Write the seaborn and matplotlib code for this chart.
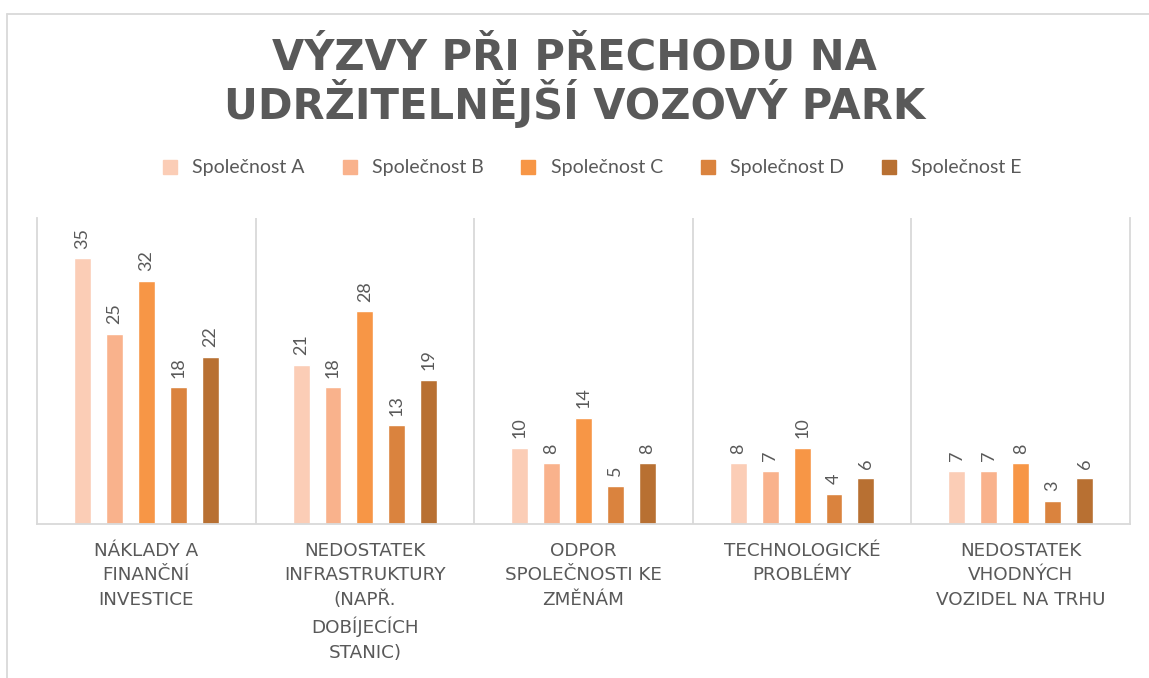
import matplotlib
matplotlib.use("Agg")
import matplotlib.pyplot as plt
import seaborn as sns
import pandas as pd
from matplotlib.lines import Line2D

categories = [
    "NÁKLADY A\nFINANČNÍ\nINVESTICE",
    "NEDOSTATEK\nINFRASTRUKTURY\n(NAPŘ.\nDOBÍJECÍCH\nSTANIC)",
    "ODPOR\nSPOLEČNOSTI KE\nZMĚNÁM",
    "TECHNOLOGICKÉ\nPROBLÉMY",
    "NEDOSTATEK\nVHODNÝCH\nVOZIDEL NA TRHU",
]
companies = ["Společnost A", "Společnost B", "Společnost C", "Společnost D", "Společnost E"]
spol_a = [35, 21, 10, 8, 7]
spol_b = [25, 18, 8, 7, 7]
spol_c = [32, 28, 14, 10, 8]
spol_d = [18, 13, 5, 4, 3]
spol_e = [22, 19, 8, 6, 6]
colors = ["#FBCDB6", "#F9B28C", "#F79646", "#DA833E", "#B87032"]

series = [spol_a, spol_b, spol_c, spol_d, spol_e]
rows = []
for comp, vals in zip(companies, series):
    for cat, v in zip(categories, vals):
        rows.append({"cat": cat, "company": comp, "value": v})
df = pd.DataFrame(rows)

sns.set_theme(style="white")
plt.rcParams["font.family"] = ["Lato", "DejaVu Sans"]
grey = "#595959"
line_c = "#D9D9D9"

fig = plt.figure(figsize=(11.49, 6.78), dpi=100)
ax = fig.add_axes([37/1149, 1-524/678, (1130-37)/1149, (524-218)/678])

sns.barplot(data=df, x="cat", y="value", hue="company", palette=colors,
            order=categories, hue_order=companies, width=0.73, gap=0.47,
            ax=ax, legend=False, saturation=1)

ax.set_ylim(0, 40.3)
ax.set_xlim(-0.5, len(categories) - 0.5)
ax.set_xlabel("")
ax.set_ylabel("")
ax.set_yticks([])
for c in ax.containers:
    ax.bar_label(c, padding=7, rotation=90, color=grey, fontsize=13)

for s in ["left", "right", "bottom"]:
    ax.spines[s].set_color(line_c)
    ax.spines[s].set_linewidth(1.3)
ax.spines["top"].set_visible(False)
for i in range(len(categories) - 1):
    ax.axvline(i + 0.5, color=line_c, lw=1.3)

ax.tick_params(axis="x", length=0, pad=13)
ax.set_xticks(range(len(categories)))
ax.set_xticklabels(categories)
for t in ax.get_xticklabels():
    t.set_fontfamily(["DejaVu Sans"])
    t.set_fontsize(13.2)
    t.set_color(grey)
    t.set_linespacing(1.45)

handles = [Line2D([0], [0], marker="s", linestyle="", markersize=10,
                  markerfacecolor=c, markeredgecolor=c) for c in colors]
fig.legend(handles, companies, loc="center", bbox_to_anchor=(0.51, 1-168/678),
           ncol=5, frameon=False, fontsize=14, labelcolor=grey,
           handletextpad=0.15, columnspacing=1.3)

fig.text(0.5, 1-82/678, "VÝZVY PŘI PŘECHODU NA\nUDRŽITELNĚJŠÍ VOZOVÝ PARK",
         ha="center", va="center", fontsize=30, fontweight="bold", color=grey,
         linespacing=1.0, family=["DejaVu Sans"])

fig.add_artist(Line2D([7/1149, 1], [1-14/678, 1-14/678], color=line_c, lw=1.3))
fig.add_artist(Line2D([7/1149, 7/1149], [0, 1-14/678], color=line_c, lw=1.3))

fig.savefig("out.png", dpi=100, facecolor="white")
